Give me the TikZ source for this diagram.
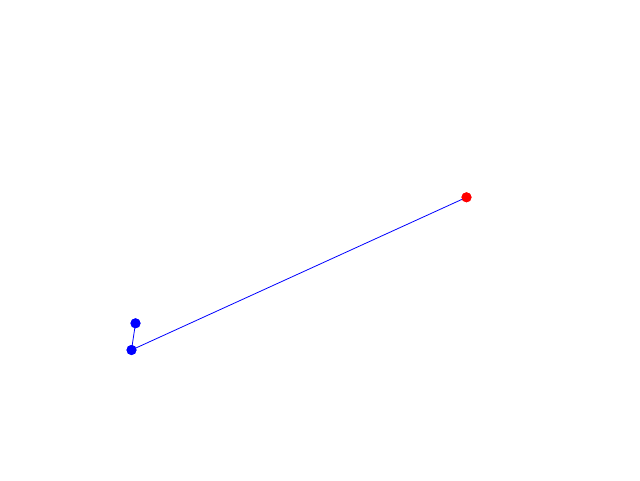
\documentclass[tikz,border=0pt]{standalone}
\begin{document}
\begin{tikzpicture}[x=1pt,y=-1pt,
  bluedot/.style={circle,fill=blue,inner sep=0pt,minimum size=10pt},
  reddot/.style={circle,fill=red,inner sep=0pt,minimum size=10pt},
  link/.style={blue,line width=0.8pt}]
\useasboundingbox[fill=white] (0,0) rectangle (640,480);
\node[bluedot] (a) at (135.5,323.3) {};
\node[bluedot] (b) at (131.5,350) {};
\node[reddot] (c) at (466.5,197.3) {};
\draw[link] (a.center) -- (b.center);
\draw[link] (b.center) -- (c.center);
\node[bluedot] at (a) {};
\node[bluedot] at (b) {};
\node[reddot] at (c) {};
\end{tikzpicture}
\end{document}
